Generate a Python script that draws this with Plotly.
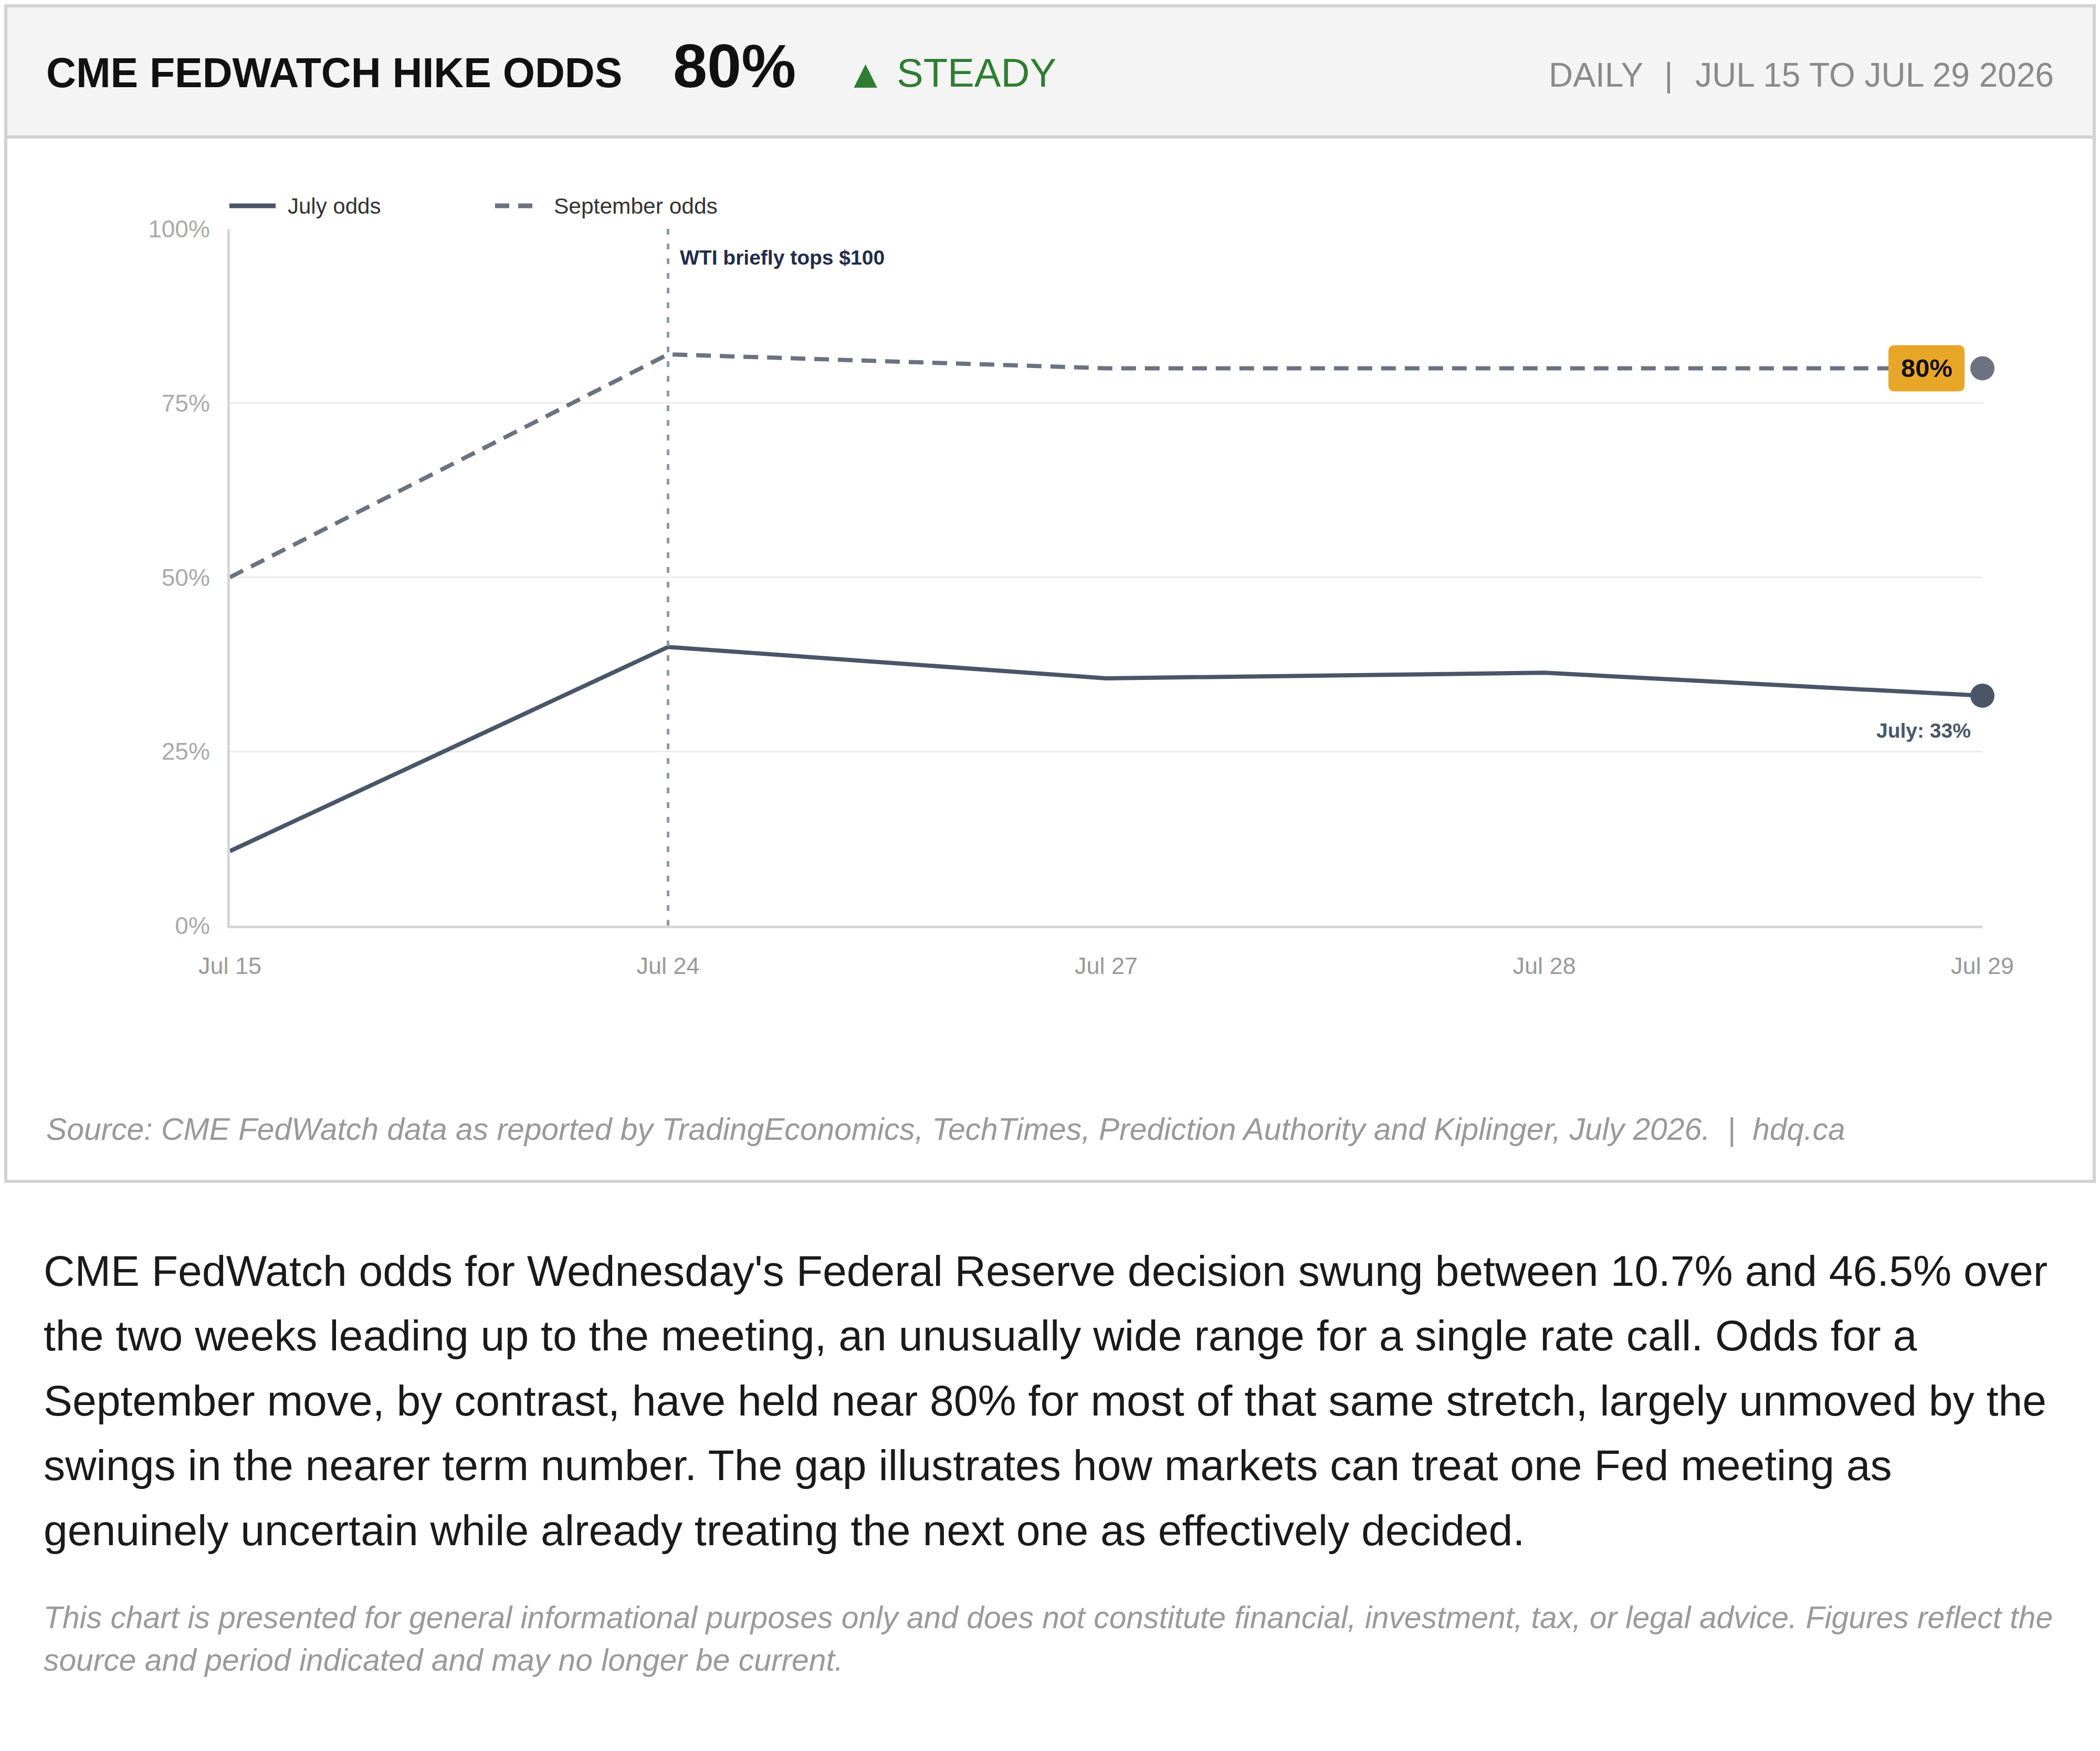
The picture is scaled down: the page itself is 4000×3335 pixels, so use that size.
import plotly.graph_objects as go

# ---------------- data ----------------
dates = ["Jul 15", "Jul 24", "Jul 27", "Jul 28", "Jul 29"]
july_odds = [10.7, 40.0, 35.5, 36.3, 33.0]
sept_odds = [50.0, 82.0, 80.0, 80.0, 80.0]
y_ticks = [0, 25, 50, 75, 100]
y_tick_labels = ["0%", "25%", "50%", "75%", "100%"]
event_date = "Jul 24"
event_label = "WTI briefly tops $100"
series_names = ["July odds", "September odds"]

title_text = "CME FEDWATCH HIKE ODDS"
status_icon = "▲"
status_text = "STEADY"
period_left = "DAILY"
period_right = "JUL 15 TO JUL 29 2026"
source_text = ("Source: CME FedWatch data as reported by TradingEconomics, TechTimes, "
               "Prediction Authority and Kiplinger, July 2026.\u00a0\u00a0|\u00a0\u00a0hdq.ca")
paragraph_lines = [
    "CME FedWatch odds for Wednesday's Federal Reserve decision swung between 10.7% and 46.5% over",
    "the two weeks leading up to the meeting, an unusually wide range for a single rate call. Odds for a",
    "September move, by contrast, have held near 80% for most of that same stretch, largely unmoved by the",
    "swings in the nearer term number. The gap illustrates how markets can treat one Fed meeting as",
    "genuinely uncertain while already treating the next one as effectively decided.",
]
disclaimer_lines = [
    "This chart is presented for general informational purposes only and does not constitute financial, "
    "investment, tax, or legal advice. Figures reflect the",
    "source and period indicated and may no longer be current.",
]

# ---------------- layout geometry (screen pixels) ----------------
PAGE_OFF = 8                      # default html body margin
W, H = 4000 - 2 * PAGE_OFF, 3335 - 2 * PAGE_OFF
L, T, R_EDGE, B_EDGE = 438, 436, 3776, 1763
PW, PH = R_EDGE - L, B_EDGE - T

def px(x):
    return (x - L) / PW

def py(y):
    return (B_EDGE - y) / PH

FONT = "Liberation Sans, Arial, Helvetica, sans-serif"
JULY_C = "#4a5568"
SEPT_C = "#6b7280"

fig = go.Figure()

fig.add_trace(go.Scatter(
    x=dates, y=sept_odds, mode="lines", name=series_names[1],
    line=dict(color=SEPT_C, width=8, dash="28px,17px"), cliponaxis=False,
    showlegend=False))
fig.add_trace(go.Scatter(
    x=dates, y=july_odds, mode="lines", name=series_names[0],
    line=dict(color=JULY_C, width=8), cliponaxis=False, showlegend=False))
fig.add_trace(go.Scatter(
    x=[dates[-1]], y=[sept_odds[-1]], mode="markers",
    marker=dict(color=SEPT_C, size=46), cliponaxis=False, showlegend=False))
fig.add_trace(go.Scatter(
    x=[dates[-1]], y=[july_odds[-1]], mode="markers",
    marker=dict(color=JULY_C, size=46), cliponaxis=False, showlegend=False))

left_edge, top_edge = PAGE_OFF, PAGE_OFF
right_edge = PAGE_OFF + W
shapes = []
# card
shapes.append(dict(type="rect", xref="paper", yref="paper", layer="below",
                   x0=px(left_edge + 3), x1=px(right_edge - 3),
                   y0=py(top_edge + 3), y1=py(2250),
                   fillcolor="white", line=dict(color="#d2d2d2", width=6)))
# header band
shapes.append(dict(type="rect", xref="paper", yref="paper", layer="below",
                   x0=px(left_edge + 6), x1=px(right_edge - 6), y0=py(top_edge + 6), y1=py(258),
                   fillcolor="#f4f4f4", line=dict(width=0)))
shapes.append(dict(type="line", xref="paper", yref="paper", layer="below",
                   x0=px(left_edge), x1=px(right_edge), y0=py(261), y1=py(261),
                   line=dict(color="#d2d2d2", width=6)))
# legend samples
shapes.append(dict(type="line", xref="paper", yref="paper",
                   x0=px(437), x1=px(525), y0=py(392), y1=py(392),
                   line=dict(color=JULY_C, width=9)))
shapes.append(dict(type="line", xref="paper", yref="paper",
                   x0=px(943), x1=px(1015), y0=py(392), y1=py(392),
                   line=dict(color=SEPT_C, width=9, dash="27px,17px")))
# event line
shapes.append(dict(type="line", xref="x", yref="y",
                   x0=event_date, x1=event_date, y0=y_ticks[0], y1=y_ticks[-1],
                   line=dict(color="#8c97aa", width=5, dash="11px,17px")))
# badge behind latest September value
shapes.append(dict(type="path", xref="x", yref="y",
                   xsizemode="pixel", ysizemode="pixel",
                   xanchor=dates[-1], yanchor=sept_odds[-1],
                   path="M -167,44 H -46 Q -34,44 -34,32 V -32 Q -34,-44 -46,-44 "
                        "H -167 Q -179,-44 -179,-32 V 32 Q -179,44 -167,44 Z",
                   fillcolor="#e8a628", line=dict(width=0)))

ann = []
PAD = 3  # annotation inner padding compensation

def text(x, y, s, size, color, xanchor="left", bold=False, italic=False, yanchor="middle"):
    if xanchor == "left":
        x -= PAD
    elif xanchor == "right":
        x += PAD
    ann.append(dict(
        xref="paper", yref="paper", x=px(x), y=py(y), text=f"<b>{s}</b>" if bold else s,
        showarrow=False, xanchor=xanchor, yanchor=yanchor,
        font=dict(family=FONT, size=size, color=color,
                  style="italic" if italic else "normal")))

# header
text(89, 139, title_text, 78.8, "#111111", bold=True)
text(1283, 125, f"{sept_odds[-1]:.0f}%", 117, "#111111", bold=True)
text(1648, 141, status_icon, 76, "#2e7d32", xanchor="center")
text(1709, 139, status_text, 76, "#2e7d32")
text(2951, 143, period_left, 64, "#8a8a8a")
text(3178, 143, "|", 64, "#8a8a8a", xanchor="center")
text(3911, 143, period_right, 64, "#8a8a8a", xanchor="right")

# legend
text(549, 393, series_names[0], 42, "#333333")
text(1056, 393, series_names[1], 42.5, "#333333")

# source
text(89, 2151, source_text, 58.8, "#999999", italic=True)

# paragraph
for i, line in enumerate(paragraph_lines):
    text(84, 2419.5 + i * 123.5, line, 82.3, "#1a1a1a")
for i, line in enumerate(disclaimer_lines):
    text(84, 3080 + i * 81, line, 58.8, "#9a9a9a", italic=True)

# chart annotations
ann.append(dict(xref="x", yref="y", x=event_date, y=y_ticks[-1], text=f"<b>{event_label}</b>",
                showarrow=False, xanchor="left", yanchor="middle", xshift=20, yshift=-54,
                font=dict(family=FONT, size=39, color="#1f2d4d")))
ann.append(dict(xref="x", yref="y", x=dates[-1], y=sept_odds[-1], text=f"<b>{sept_odds[-1]:.0f}%</b>",
                showarrow=False, xanchor="center", yanchor="middle", xshift=-106.5, yshift=0,
                font=dict(family=FONT, size=49, color="#111111")))
ann.append(dict(xref="x", yref="y", x=dates[-1], y=july_odds[-1], text=f"<b>July: {july_odds[-1]:.0f}%</b>",
                showarrow=False, xanchor="right", yanchor="middle", xshift=-20, yshift=-66,
                font=dict(family=FONT, size=39, color=JULY_C)))

fig.update_layout(
    width=W, height=H,
    margin=dict(l=L - PAGE_OFF, r=PAGE_OFF + W - R_EDGE, t=T - PAGE_OFF,
                b=PAGE_OFF + H - B_EDGE, pad=0),
    paper_bgcolor="white", plot_bgcolor="rgba(0,0,0,0)",
    showlegend=False, shapes=shapes, annotations=ann,
    font=dict(family=FONT),
    xaxis=dict(type="category", categoryorder="array", categoryarray=dates,
               range=[0, len(dates) - 1], showgrid=False, zeroline=False,
               showline=True, linecolor="#d6d6d6", linewidth=5,
               ticks="", tickfont=dict(family=FONT, size=45, color="#999999"),
               ticklabelstandoff=33, fixedrange=True),
    yaxis=dict(range=[0, 100], tickvals=y_ticks, ticktext=y_tick_labels,
               showgrid=True, gridcolor="#ececec", gridwidth=3, zeroline=False,
               showline=True, linecolor="#d6d6d6", linewidth=5,
               ticks="", tickfont=dict(family=FONT, size=46, color="#aaaaaa"),
               ticklabelstandoff=24, fixedrange=True),
)

fig.write_html("out.html")
